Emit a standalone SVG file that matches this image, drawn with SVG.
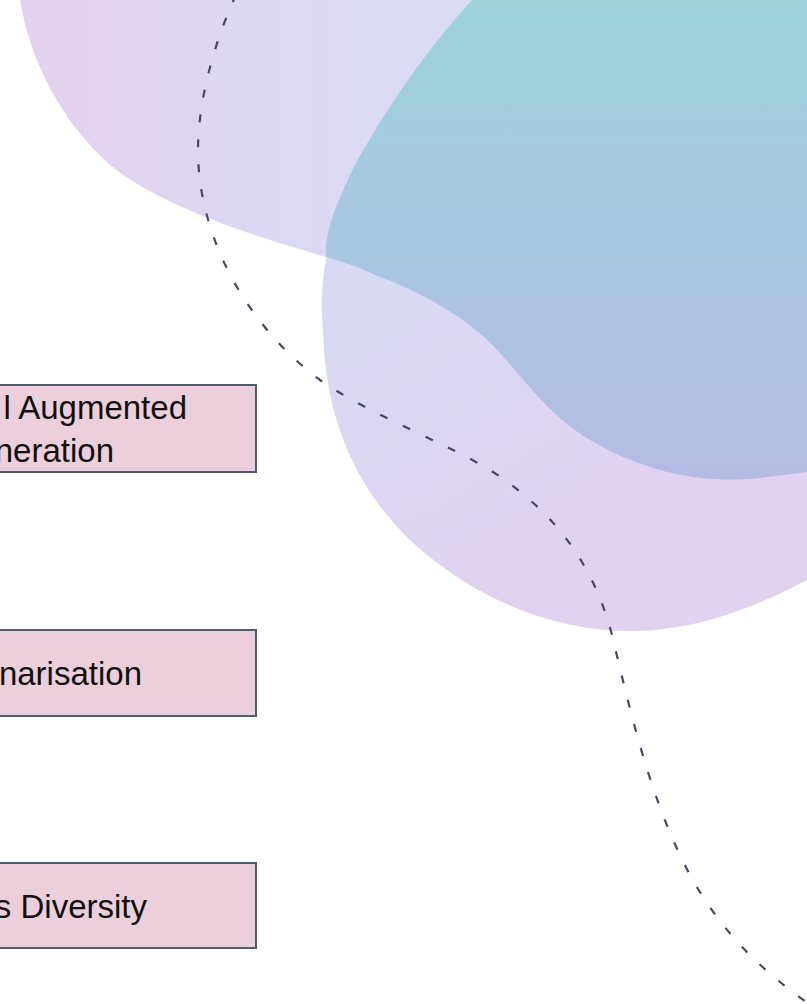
<svg xmlns="http://www.w3.org/2000/svg" width="807" height="1004" viewBox="0 0 807 1004">
  <defs>
    <linearGradient id="gUpper" x1="80" y1="0" x2="420" y2="0" gradientUnits="userSpaceOnUse">
      <stop offset="0" stop-color="#E3D2EE"/>
      <stop offset="0.55" stop-color="#DCD8F1"/>
      <stop offset="1" stop-color="#D9DBF2"/>
    </linearGradient>
    <linearGradient id="gLower" x1="380" y1="280" x2="560" y2="600" gradientUnits="userSpaceOnUse">
      <stop offset="0" stop-color="#D8DAF2"/>
      <stop offset="0.5" stop-color="#DDD5F1"/>
      <stop offset="1" stop-color="#E1D2EF"/>
    </linearGradient>
    <linearGradient id="gTeal" x1="0" y1="0" x2="0" y2="470" gradientUnits="userSpaceOnUse">
      <stop offset="0" stop-color="#9CD4DA"/>
      <stop offset="0.45" stop-color="#A8C9DF"/>
      <stop offset="1" stop-color="#B5BCE3"/>
    </linearGradient>
    <style>
      .box { fill: #EBD0DC; stroke: #4F5B6E; stroke-width: 2; }
      .label { font-family: "Liberation Sans", Arial, sans-serif; font-size: 33px; fill: #111111; text-anchor: end; }
      .dash { fill: none; stroke: #474864; stroke-width: 2.2; stroke-dasharray: 8 17; stroke-linecap: butt; }
    </style>
  </defs>

  <rect x="0" y="0" width="807" height="1004" fill="#FFFFFF"/>

  <g id="background">
    <path d="M 20 0 C 30 60, 60 120, 110 165 C 160 205, 240 232, 326 257 L 560 330 L 807 0 Z" fill="url(#gUpper)"/>
    <path d="M 380 120 C 340 190, 316 260, 323 330 C 325 430, 365 510, 440 565 C 500 610, 570 632, 635 631 C 700 630, 760 605, 807 580 L 807 120 Z" fill="url(#gLower)"/>
    <path d="M 472 0 C 430 45, 385 110, 355 165 C 335 205, 324 235, 326 257 C 345 262, 360 268, 380 277 C 420 292, 455 312, 482 335 C 520 370, 540 410, 590 440 C 640 470, 700 485, 760 478 L 807 472 L 807 0 Z" fill="url(#gTeal)"/>
  </g>

  <g id="connectors">
    <path class="dash" d="M 236 -5 C 215 40, 198 100, 198 150 C 198 230, 240 320, 320 380 C 370 415, 440 440, 490 470 C 560 515, 595 570, 612 635 C 630 710, 650 800, 690 875 C 720 930, 760 970, 812 1006"/>
  </g>

  <g id="node-rag">
    <rect class="box" x="-200" y="385" width="456" height="87"/>
    <text class="label" x="187" y="419">l Augmented</text>
    <text class="label" x="114" y="462">neration</text>
  </g>

  <g id="node-summarisation">
    <rect class="box" x="-200" y="630" width="456" height="86"/>
    <text class="label" x="142" y="685">narisation</text>
  </g>

  <g id="node-diversity">
    <rect class="box" x="-200" y="863" width="456" height="85"/>
    <text class="label" x="147" y="918">s Diversity</text>
  </g>
</svg>
